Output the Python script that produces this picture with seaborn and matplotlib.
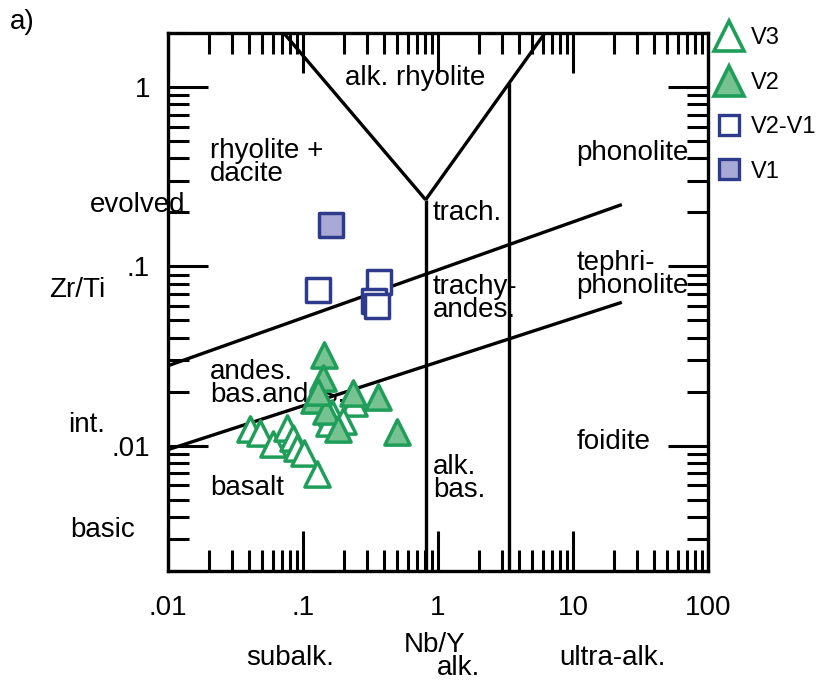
import matplotlib
matplotlib.use("Agg")
import matplotlib.pyplot as plt
from matplotlib.lines import Line2D
import seaborn as sns
import numpy as np
import pandas as pd

# ---------------- data ----------------
# V3 (open triangles)
v3_nby = [0.0407, 0.0483, 0.0604, 0.0767, 0.0849, 0.091, 0.101, 0.128, 0.237, 0.163, 0.197, 0.155]
v3_zrti = [0.01245, 0.0118, 0.01026, 0.0126, 0.0111, 0.00975, 0.00914, 0.00697, 0.01719, 0.0153, 0.0138, 0.01346]
# V2 (filled triangles)
v2_nby = [0.142, 0.1396, 0.1197, 0.147, 0.1805, 0.233, 0.358, 0.495, 0.130]
v2_zrti = [0.0319, 0.0237, 0.01786, 0.0157, 0.01245, 0.01956, 0.01858, 0.01198, 0.0198]
# V2-V1 (open squares)
v21_nby = [0.130, 0.364, 0.334, 0.351]
v21_zrti = [0.0738, 0.0819, 0.064, 0.060]
# V1 (filled squares)
v1_nby = [0.160]
v1_zrti = [0.171]

# field boundaries (Nb/Y, Zr/Ti)
upper_x = [0.01, 23.0]
upper_y = [0.0279, 0.221]
lower_x = [0.01, 23.0]
lower_y = [0.0095, 0.063]
leftarm_x = [0.072, 0.81]
leftarm_y = [2.0, 0.235]
rightarm_x = [0.81, 6.2]
rightarm_y = [0.235, 2.0]
vert1_x = [0.81, 0.81]
vert1_y = [0.002, 0.235]
vert2_x = [3.37, 3.37]
vert2_y = [0.002, 1.05]

xticks = [0.01, 0.1, 1, 10, 100]
xticklabels = [".01", ".1", "1", "10", "100"]
yticks = [0.01, 0.1, 1]
yticklabels = [".01", ".1", "1"]

field_labels = [
    ("alk. rhyolite", 0.205, 1.12),
    ("rhyolite +\ndacite", 0.0205, 0.38),
    ("phonolite", 10.6, 0.43),
    ("trach.", 0.92, 0.198),
    ("trachy-\nandes.", 0.92, 0.066),
    ("tephri-\nphonolite", 10.6, 0.090),
    ("andes.\nbas.andes.", 0.0205, 0.0222),
    ("basalt", 0.0205, 0.0058),
    ("alk.\nbas.", 0.92, 0.0066),
    ("foidite", 10.6, 0.0105),
]

green = "#1f9e5a"
green_fill = "#76c290"
blue = "#2e3a8c"
blue_fill = "#a9a9d6"

# ---------------- plot ----------------
sns.set_style("white")
plt.rcParams["font.family"] = ["Liberation Sans", "DejaVu Sans"]
plt.rcParams["text.color"] = "black"
plt.rcParams["xtick.color"] = "black"
plt.rcParams["ytick.color"] = "black"

fig = plt.figure(figsize=(8.19, 6.86), dpi=100)
ax = fig.add_axes([168 / 819, 1 - 571 / 686, (708 - 168) / 819, (571 - 33) / 686])
ax.set_xscale("log")
ax.set_yscale("log")
ax.set_xlim(0.01, 100)
ax.set_ylim(0.002, 2.0)

lw = 2.4
for bx, by in [(upper_x, upper_y), (lower_x, lower_y), (leftarm_x, leftarm_y),
               (rightarm_x, rightarm_y), (vert1_x, vert1_y), (vert2_x, vert2_y)]:
    ax.plot(bx, by, color="black", lw=lw, zorder=2, solid_capstyle="butt")

for txt, x, y in field_labels:
    ax.text(x, y, txt, fontsize=20, ha="left", va="center", linespacing=0.85,
            zorder=1, color="black")

sns.scatterplot(x=v3_nby, y=v3_zrti, marker="^", s=330, color="white",
                edgecolor=green, linewidth=2.5, ax=ax, zorder=3)
sns.scatterplot(x=v2_nby, y=v2_zrti, marker="^", s=330, color=green_fill,
                edgecolor=green, linewidth=2.5, ax=ax, zorder=4)
sns.scatterplot(x=v21_nby, y=v21_zrti, marker="s", s=290, color="white",
                edgecolor=blue, linewidth=2.5, ax=ax, zorder=3)
sns.scatterplot(x=v1_nby, y=v1_zrti, marker="s", s=290, color=blue_fill,
                edgecolor=blue, linewidth=2.5, ax=ax, zorder=3)

ax.set_xticks(xticks)
ax.set_xticklabels(xticklabels)
ax.set_yticks(yticks)
ax.set_yticklabels(yticklabels)
ax.tick_params(which="major", direction="in", length=29, width=2.2, labelsize=20,
               top=True, right=True, bottom=True, left=True, colors="black")
ax.tick_params(which="minor", direction="in", length=15, width=2.2,
               top=True, right=True, bottom=True, left=True, colors="black")
ax.tick_params(axis="x", which="major", pad=17)
ax.tick_params(axis="y", which="major", pad=13)
for s in ax.spines.values():
    s.set_linewidth(2.4)
    s.set_color("black")
ax.set_xlabel("")
ax.set_ylabel("")

# outer annotations
fig.text(10 / 819, 1 - 22 / 686, "a)", fontsize=20, ha="left", va="center")
fig.text(185 / 819, 1 - 205 / 686, "evolved", fontsize=20, ha="right", va="center")
fig.text(105 / 819, 1 - 290 / 686, "Zr/Ti", fontsize=20, ha="right", va="center")
fig.text(105 / 819, 1 - 425 / 686, "int.", fontsize=20, ha="right", va="center")
fig.text(135 / 819, 1 - 530 / 686, "basic", fontsize=20, ha="right", va="center")
fig.text(290 / 819, 1 - 658 / 686, "subalk.", fontsize=20, ha="center", va="center")
fig.text(435 / 819, 1 - 645 / 686, "Nb/Y", fontsize=20, ha="center", va="center")
fig.text(458 / 819, 1 - 668 / 686, "alk.", fontsize=20, ha="center", va="center")
fig.text(612 / 819, 1 - 658 / 686, "ultra-alk.", fontsize=20, ha="center", va="center")

handles = [
    Line2D([], [], ls="none", marker="^", ms=21, mfc="white", mec=green, mew=2.6),
    Line2D([], [], ls="none", marker="^", ms=21, mfc=green_fill, mec=green, mew=2.6),
    Line2D([], [], ls="none", marker="s", ms=15, mfc="white", mec=blue, mew=2.4),
    Line2D([], [], ls="none", marker="s", ms=15, mfc=blue_fill, mec=blue, mew=2.4),
]
fig.legend(handles, ["V3", "V2", "V2-V1", "V1"], loc="upper left",
           bbox_to_anchor=(708 / 819, 1 - 18 / 686), frameon=False, fontsize=17,
           labelspacing=0.95, handlelength=1.0, handletextpad=0.4, borderaxespad=0)

fig.savefig("out.png", dpi=100)
